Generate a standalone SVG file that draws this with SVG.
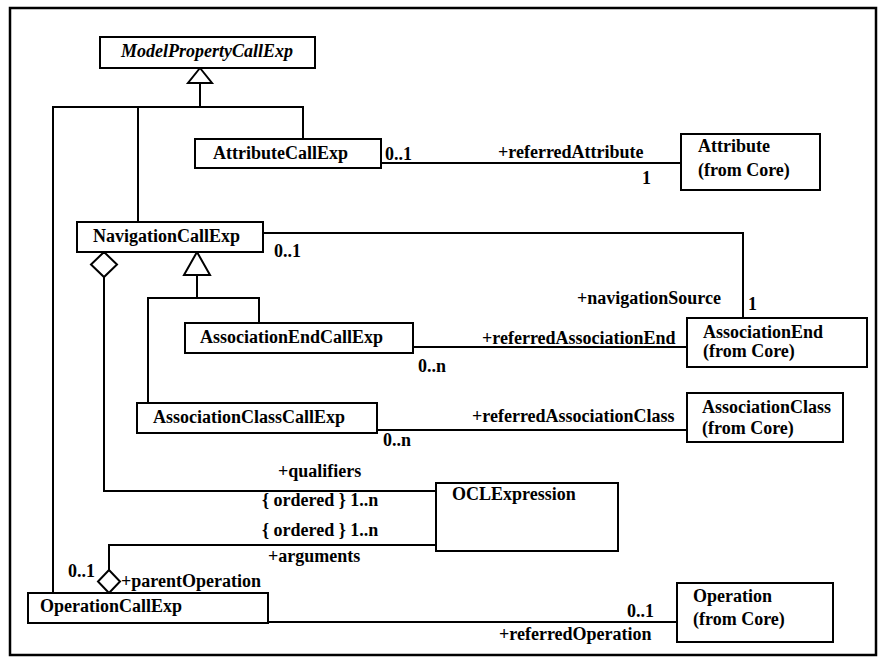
<svg xmlns="http://www.w3.org/2000/svg" width="883" height="658" viewBox="0 0 883 658">
<style>
.box{fill:#fff;stroke:#000;stroke-width:2}
.ln{fill:none;stroke:#000;stroke-width:2}
text{font-family:"Liberation Serif","Times New Roman",serif;font-weight:bold;font-size:18px;fill:#000}
.it{font-style:italic}
</style>
<rect x="0" y="0" width="883" height="658" fill="#fff"/>
<rect x="10" y="8" width="866" height="647" fill="none" stroke="#000" stroke-width="2.5"/>
<g id="connectors">
<polyline class="ln" points="200,83 200,107"/>
<polyline class="ln" points="53,593 53,107 303,107 303,139"/>
<polyline class="ln" points="138,107 138,222"/>
<polyline class="ln" points="381,163 681,163"/>
<polyline class="ln" points="263,233 743,233 743,318"/>
<polyline class="ln" points="197,275 197,298"/>
<polyline class="ln" points="148,403 148,298 259,298 259,323"/>
<polyline class="ln" points="413,347 687,347"/>
<polyline class="ln" points="377,430 687,430"/>
<polyline class="ln" points="104,277 104,491 436,491"/>
<polyline class="ln" points="436,545 109,545 109,570"/>
<polyline class="ln" points="268,622 677,622"/>
<polygon class="box" points="200,68 212,83 188,83"/>
<polygon class="box" points="197,252 210,275 184,275"/>
<polygon class="box" points="104,252 117,264.5 104,277 91,264.5"/>
<polygon class="box" points="109,570 120,581.5 109,593 98,581.5"/>
<text x="385" y="160">0..1</text>
<text x="498" y="158">+referredAttribute</text>
<text x="642" y="184">1</text>
<text x="274" y="257">0..1</text>
<text x="577" y="304">+navigationSource</text>
<text x="748" y="310">1</text>
<text x="482" y="344">+referredAssociationEnd</text>
<text x="418" y="372">0..n</text>
<text x="472" y="422">+referredAssociationClass</text>
<text x="383" y="446">0..n</text>
<text x="278" y="477">+qualifiers</text>
<text x="262" y="506">{ ordered } 1..n</text>
<text x="262" y="536">{ ordered } 1..n</text>
<text x="268" y="562">+arguments</text>
<text x="68" y="577">0..1</text>
<text x="121" y="587">+parentOperation</text>
<text x="627" y="617">0..1</text>
<text x="499" y="640">+referredOperation</text>
</g>
<g id="ModelPropertyCallExp">
<rect class="box" x="100" y="37" width="215" height="31"/>
<text class="it" x="207" y="57" text-anchor="middle">ModelPropertyCallExp</text>
</g>
<g id="AttributeCallExp">
<rect class="box" x="195" y="139" width="186" height="29"/>
<text x="213" y="159">AttributeCallExp</text>
</g>
<g id="Attribute">
<rect class="box" x="681" y="134" width="139" height="56"/>
<text x="698" y="152">Attribute</text>
<text x="698" y="176">(from Core)</text>
</g>
<g id="NavigationCallExp">
<rect class="box" x="77" y="222" width="186" height="30"/>
<text x="93" y="242">NavigationCallExp</text>
</g>
<g id="AssociationEndCallExp">
<rect class="box" x="185" y="323" width="228" height="30"/>
<text x="200" y="343">AssociationEndCallExp</text>
</g>
<g id="AssociationEnd">
<rect class="box" x="687" y="318" width="180" height="49"/>
<text x="703" y="338">AssociationEnd</text>
<text x="703" y="357">(from Core)</text>
</g>
<g id="AssociationClassCallExp">
<rect class="box" x="137" y="403" width="240" height="30"/>
<text x="153" y="423">AssociationClassCallExp</text>
</g>
<g id="AssociationClass">
<rect class="box" x="687" y="393" width="156" height="49"/>
<text x="702" y="413">AssociationClass</text>
<text x="702" y="434">(from Core)</text>
</g>
<g id="OCLExpression">
<rect class="box" x="436" y="483" width="182" height="68"/>
<text x="452" y="500">OCLExpression</text>
</g>
<g id="OperationCallExp">
<rect class="box" x="28" y="593" width="240" height="30"/>
<text x="40" y="612">OperationCallExp</text>
</g>
<g id="Operation">
<rect class="box" x="677" y="583" width="156" height="59"/>
<text x="693" y="602">Operation</text>
<text x="693" y="625">(from Core)</text>
</g>
</svg>
